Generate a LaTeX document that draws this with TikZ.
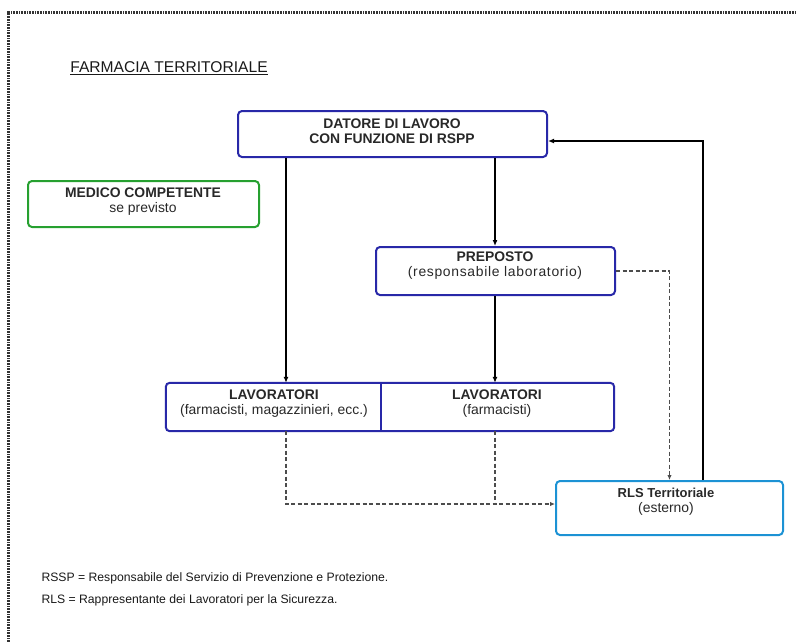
\documentclass[tikz,border=0pt]{standalone}
\usepackage{fontspec}
\setmainfont{Liberation Sans}
\usetikzlibrary{arrows.meta}
\definecolor{boxblue}{RGB}{40,40,168}
\definecolor{boxgreen}{RGB}{38,160,48}
\definecolor{boxcyan}{RGB}{28,146,212}
\definecolor{inktext}{RGB}{40,40,40}
\tikzset{
  orgbox/.style={draw=boxblue, line width=2pt, rounded corners=4pt, inner sep=0pt},
  boxtext/.style={align=center, text=inktext, font=\fontsize{13.9}{15}\selectfont},
  solidlink/.style={line width=1.6pt, -{Latex[length=6pt,width=5pt]}},
  dashlink/.style={line width=1.2pt, draw=black!70, dash pattern=on 4pt off 2.5pt},
  notetext/.style={anchor=west, text=black!90, font=\fontsize{12.2}{14}\selectfont},
}
\begin{document}
\begin{tikzpicture}[x=1pt,y=-1pt]
  \useasboundingbox (0,0) rectangle (796,641);
  % dotted frame
  \draw[line width=2.8pt, draw=black!80, dash pattern=on 0.9pt off 0.7pt] (8.5,650) -- (8.5,12.5) -- (800,12.5);
  \node[text=black!90, font=\fontsize{15.6}{17}\selectfont] (title) at (169,68) {\underline{FARMACIA TERRITORIALE}};
  % boxes
  \node[orgbox, minimum width=309pt, minimum height=46pt] (datore) at (392.5,134) {};
  \node[orgbox, draw=boxgreen, minimum width=231pt, minimum height=46pt] (medico) at (143.5,204) {};
  \node[orgbox, minimum width=239pt, minimum height=48pt] (preposto) at (495.5,271) {};
  \node[minimum width=215pt, minimum height=48pt, inner sep=0pt] (lavL) at (273.5,407) {};
  \node[minimum width=233pt, minimum height=48pt, inner sep=0pt] (lavR) at (497.5,407) {};
  \draw[orgbox] (lavL.north west) rectangle (lavR.south east);
  \draw[draw=boxblue, line width=2pt] (lavL.north east) -- (lavL.south east);
  \node[orgbox, draw=boxcyan, minimum width=227pt, minimum height=54pt] (rls) at (669.5,508) {};
  % box texts
  \node[boxtext] (datoreT) at (392,131) {\textbf{DATORE DI LAVORO}\\\textbf{CON FUNZIONE DI RSPP}};
  \node[boxtext] (medicoT) at (143,202) {\textbf{MEDICO COMPETENTE}\\se previsto};
  \node[boxtext] (prepostoT) at (495,266) {\textbf{PREPOSTO}\\{\addfontfeature{LetterSpace=5}(responsabile laboratorio)}};
  \node[boxtext] (lavLT) at (274,404) {\textbf{LAVORATORI}\\(farmacisti, magazzinieri, ecc.)};
  \node[boxtext] (lavRT) at (497,404) {\textbf{LAVORATORI}\\(farmacisti)};
  \node[boxtext] (rlsT) at (666,502) {{\fontsize{13}{15}\selectfont\textbf{RLS Territoriale}}\\(esterno)};
  % columns of the links
  \coordinate (colL) at (286,0);
  \coordinate (colR) at (495,0);
  \coordinate (colRLS) at (703,0);
  \coordinate (rlsIn) at ([yshift=4pt]rls.west);
  \coordinate (datoreIn) at ([yshift=-7pt]datore.east);
  % links
  \draw[solidlink] (datore.south -| colL) -- (lavL.north -| colL);
  \draw[solidlink] (datore.south -| colR) -- (preposto.north -| colR);
  \draw[solidlink] (preposto.south -| colR) -- (lavR.north -| colR);
  \draw[solidlink] (rls.north -| colRLS) |- (datoreIn);
  \draw[dashlink, -{Latex[length=5pt,width=4.5pt]}] (preposto.east) -| (rls.north);
  \draw[dashlink, -{Latex[length=5pt,width=4.5pt]}] (lavL.south -| colL) |- (rlsIn);
  \draw[dashlink] (lavR.south -| colR) -- (colR |- rlsIn);
  % notes
  \node[notetext] (noteRSPP) at (38,578) {RSSP = Responsabile del Servizio di Prevenzione e Protezione.};
  \node[notetext] (noteRLS) at (38,600) {RLS = Rappresentante dei Lavoratori per la Sicurezza.};
\end{tikzpicture}
\end{document}
